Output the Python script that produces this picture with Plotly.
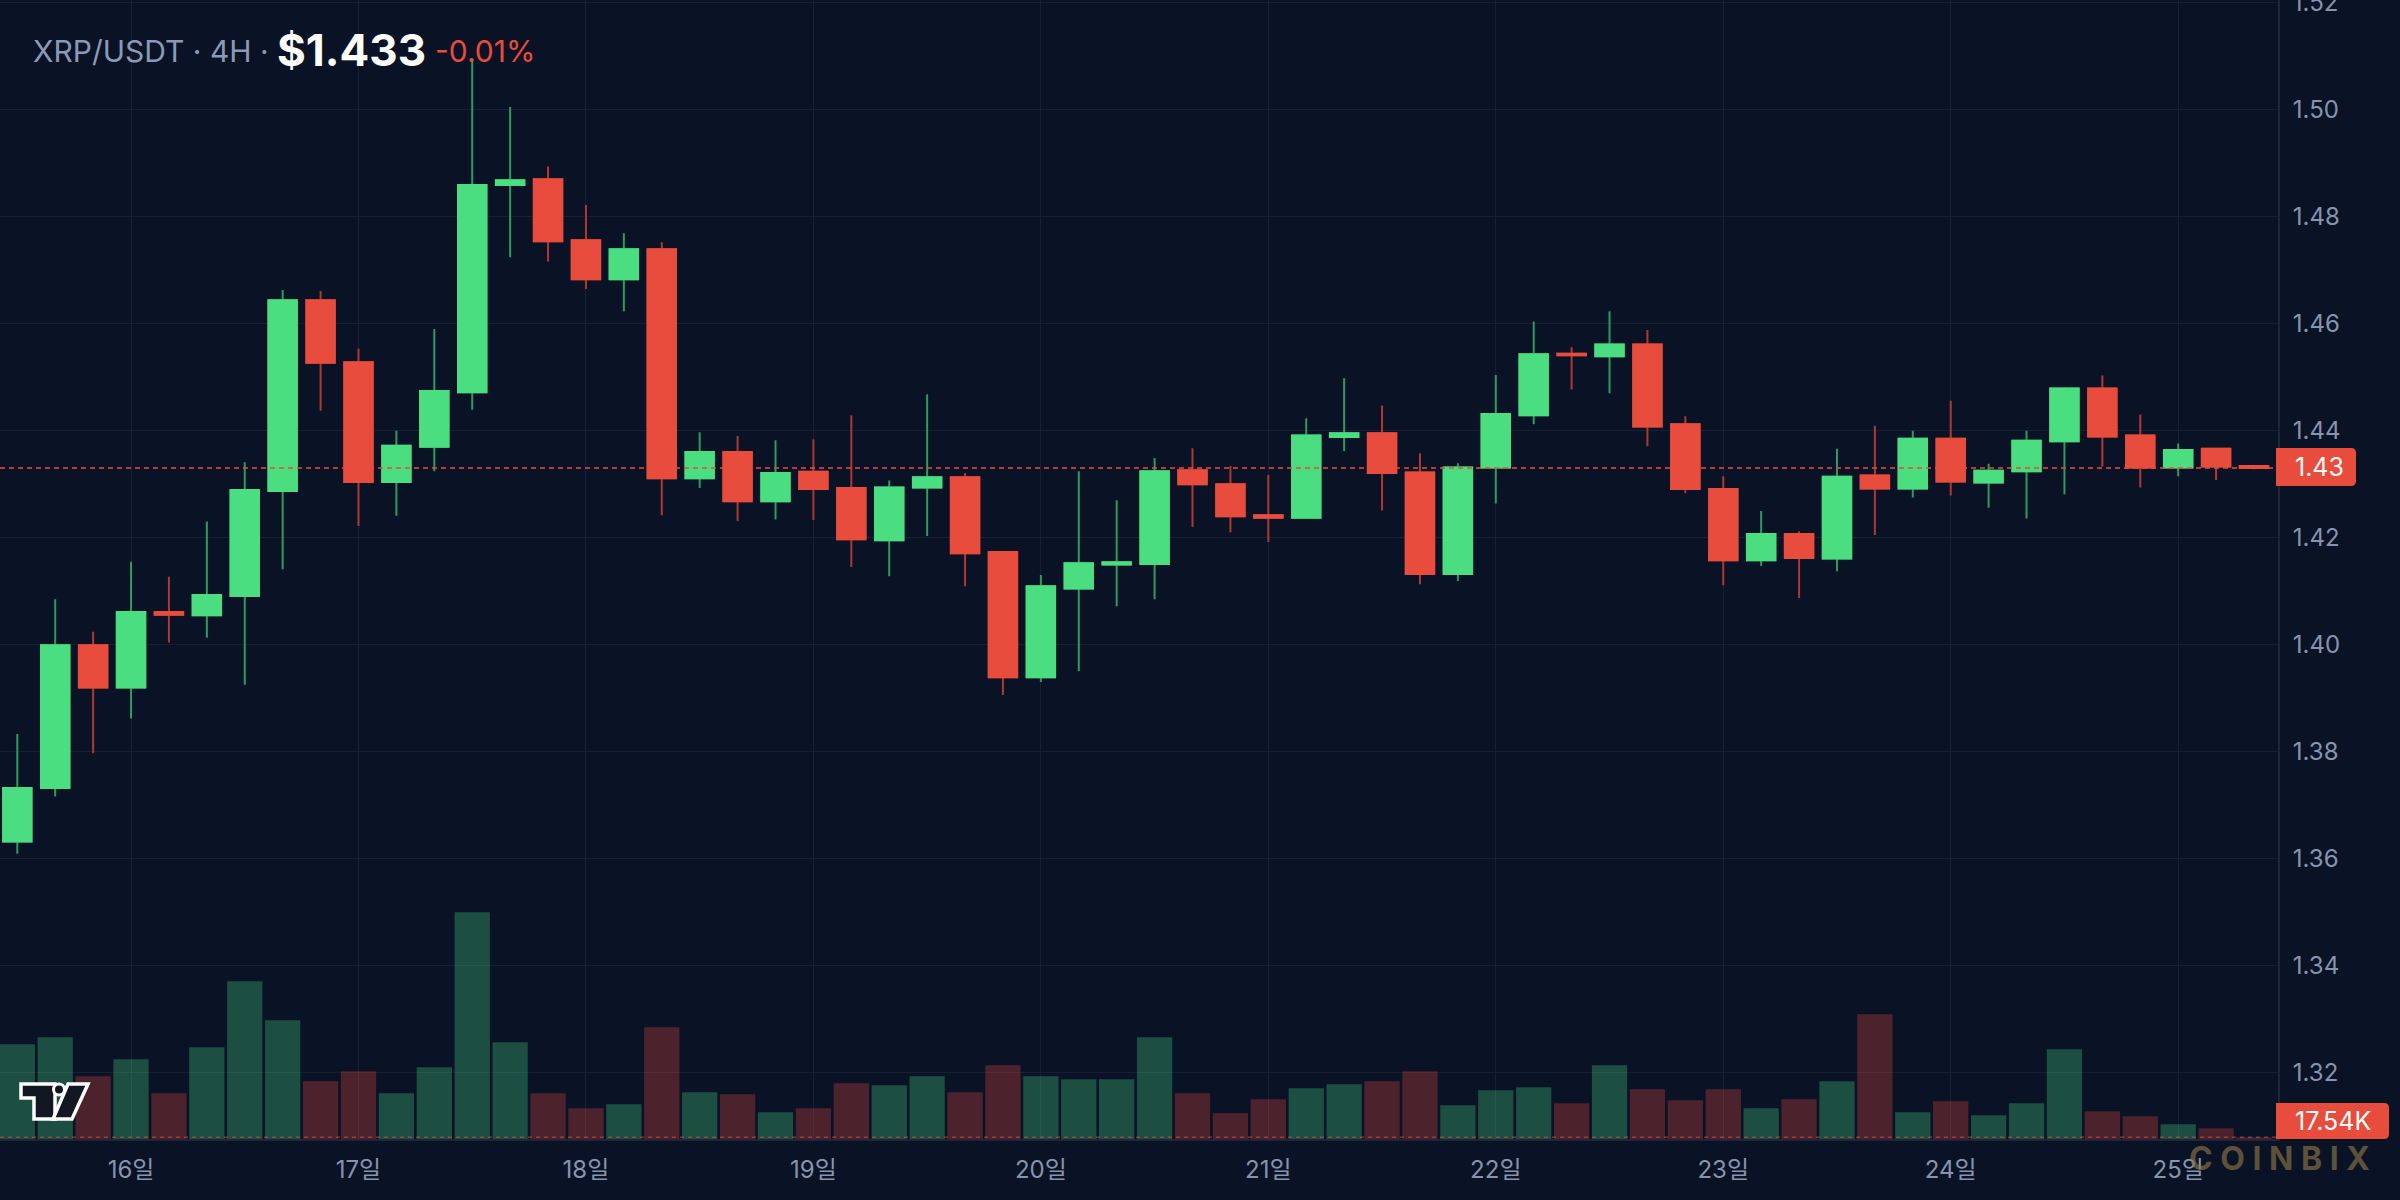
import plotly.graph_objects as go

# ---------------- data ----------------
day_labels = ["16일", "17일", "18일", "19일", "20일", "21일", "22일", "23일", "24일", "25일"]
day_tick_index = [3, 9, 15, 21, 27, 33, 39, 45, 51, 57]
price_ticks = [1.32, 1.34, 1.36, 1.38, 1.40, 1.42, 1.44, 1.46, 1.48, 1.50, 1.52]

opens = [1.3632, 1.3732, 1.3999, 1.3920, 1.4061, 1.4055, 1.4091, 1.4287, 1.4644, 1.4528,
         1.4304, 1.4370, 1.4472, 1.4859, 1.4870, 1.4756, 1.4683, 1.4739, 1.4311, 1.4360,
         1.4268, 1.4323, 1.4293, 1.4195, 1.4294, 1.4313, 1.4173, 1.3939, 1.4105, 1.4150,
         1.4151, 1.4326, 1.4300, 1.4242, 1.4237, 1.4388, 1.4395, 1.4322, 1.4132, 1.4331,
         1.4429, 1.4544, 1.4539, 1.4561, 1.4412, 1.4291, 1.4158, 1.4207, 1.4161, 1.4316,
         1.4292, 1.4385, 1.4303, 1.4324, 1.4380, 1.4479, 1.4391, 1.4331, 1.4366, 1.4334]
highs = [1.3833, 1.4085, 1.4024, 1.4155, 1.4127, 1.4230, 1.4341, 1.4663, 1.4661, 1.4553,
         1.4400, 1.4590, 1.5095, 1.5005, 1.4894, 1.4822, 1.4769, 1.4752, 1.4397, 1.4390,
         1.4382, 1.4384, 1.4429, 1.4307, 1.4468, 1.4321, 1.4174, 1.4130, 1.4324, 1.4270,
         1.4349, 1.4367, 1.4334, 1.4317, 1.4423, 1.4498, 1.4447, 1.4358, 1.4339, 1.4504,
         1.4604, 1.4556, 1.4623, 1.4588, 1.4427, 1.4315, 1.4250, 1.4212, 1.4366, 1.4409,
         1.4400, 1.4456, 1.4338, 1.4400, 1.4481, 1.4503, 1.4430, 1.4376, 1.4368, 1.4335]
lows = [1.3609, 1.3716, 1.3797, 1.3862, 1.4004, 1.4013, 1.3925, 1.4141, 1.4437, 1.4222,
        1.4241, 1.4324, 1.4439, 1.4724, 1.4716, 1.4665, 1.4623, 1.4242, 1.4293, 1.4231,
        1.4234, 1.4233, 1.4145, 1.4128, 1.4203, 1.4109, 1.3906, 1.3930, 1.3951, 1.4072,
        1.4085, 1.4220, 1.4210, 1.4192, 1.4237, 1.4362, 1.4251, 1.4113, 1.4119, 1.4264,
        1.4412, 1.4477, 1.4470, 1.4371, 1.4283, 1.4111, 1.4147, 1.4087, 1.4137, 1.4205,
        1.4275, 1.4279, 1.4256, 1.4236, 1.4281, 1.4333, 1.4294, 1.4315, 1.4308, 1.4328]
closes = [1.3732, 1.3999, 1.3920, 1.4061, 1.4056, 1.4093, 1.4289, 1.4644, 1.4527, 1.4304,
          1.4372, 1.4474, 1.4859, 1.4868, 1.4754, 1.4683, 1.4739, 1.4311, 1.4360, 1.4268,
          1.4321, 1.4291, 1.4197, 1.4294, 1.4313, 1.4171, 1.3939, 1.4109, 1.4152, 1.4154,
          1.4324, 1.4300, 1.4240, 1.4237, 1.4391, 1.4395, 1.4321, 1.4132, 1.4331, 1.4431,
          1.4543, 1.4541, 1.4561, 1.4408, 1.4291, 1.4158, 1.4207, 1.4162, 1.4314, 1.4292,
          1.4385, 1.4305, 1.4325, 1.4381, 1.4479, 1.4389, 1.4331, 1.4364, 1.4333, 1.4330]
volumes_k = [975, 1047, 646, 821, 471, 944, 1624, 1223, 594, 697,
             471, 738, 2335, 996, 471, 316, 357, 1150, 481, 460,
             275, 316, 574, 553, 646, 481, 759, 646, 615, 615,
             1047, 471, 265, 409, 522, 563, 594, 697, 347, 502,
             532, 368, 759, 512, 399, 512, 316, 409, 594, 1284,
             275, 388, 244, 368, 924, 285, 234, 151, 110, 17.54]

symbol_text = "XRP/USDT · 4H ·"
last_price_text = "$1.433"
change_text = "-0.01%"
price_label_text = "1.43"
volume_label_text = "17.54K"
watermark_text = "COINBIX"

# ---------------- styling ----------------
BG = "#0a1226"
GRID = "#172033"
AXLINE = "#1e2738"
LABEL = "#8794ad"
UP = "#4ade80"
DOWN = "#e74c3c"
UP_WICK = "#2f9a5e"
DOWN_WICK = "#ad3a31"
UP_VOL = "rgba(74,222,128,0.30)"
DOWN_VOL = "rgba(231,76,60,0.30)"
FONT = "Inter, 'Noto Sans CJK KR', sans-serif"

W, H = 2400, 1200
PW, PH = 2278, 1139  # plot area size in px

idx = list(range(len(opens)))
last_close = closes[-1]
body_hi = [max(o, c) for o, c in zip(opens, closes)]
body_lo = [min(o, c) for o, c in zip(opens, closes)]
vol_colors = [UP_VOL if c >= o else DOWN_VOL for o, c in zip(opens, closes)]


def pp(x, y):
    return f"{x / PW:.6f},{1 - y / PH:.6f}"


def rbox(x0, y0, x1, y1, r):
    return (f"M {pp(x0, y0)} L {pp(x1 - r, y0)} Q {pp(x1, y0)} {pp(x1, y0 + r)} "
            f"L {pp(x1, y1 - r)} Q {pp(x1, y1)} {pp(x1 - r, y1)} L {pp(x0, y1)} Z")


fig = go.Figure()

fig.add_trace(go.Bar(x=idx, y=volumes_k, marker=dict(color=vol_colors, line=dict(width=0)),
                     yaxis="y2", hoverinfo="skip"))

# wicks
fig.add_trace(go.Candlestick(
    x=idx, open=opens, high=highs, low=lows, close=closes,
    increasing=dict(line=dict(color=UP_WICK, width=2), fillcolor=UP_WICK),
    decreasing=dict(line=dict(color=DOWN_WICK, width=2), fillcolor=DOWN_WICK),
    hoverinfo="skip"))
# bodies
fig.add_trace(go.Candlestick(
    x=idx, open=opens, high=body_hi, low=body_lo, close=closes,
    increasing=dict(line=dict(color=UP, width=2), fillcolor=UP),
    decreasing=dict(line=dict(color=DOWN, width=2), fillcolor=DOWN),
    hoverinfo="skip"))

x_left = -17.3 / 37.91
x_right = x_left + PW / 37.91
vmax = max(volumes_k)

fig.update_layout(
    width=W, height=H,
    margin=dict(l=0, r=W - PW, t=0, b=H - PH, autoexpand=False),
    paper_bgcolor=BG, plot_bgcolor=BG,
    showlegend=False, hovermode=False,
    boxmode="overlay", boxgap=0.25, boxgroupgap=0, bargap=0.07,
    font=dict(family=FONT, color=LABEL),
    xaxis=dict(range=[x_left, x_right], tickmode="array", tickvals=day_tick_index, ticktext=day_labels,
               showgrid=True, gridcolor=GRID, gridwidth=1, zeroline=False,
               showline=True, linecolor=AXLINE, linewidth=2, ticks="",
               tickfont=dict(family=FONT, size=24, color=LABEL), ticklabelstandoff=8,
               rangeslider=dict(visible=False), fixedrange=True, automargin=False),
    yaxis=dict(side="right", range=[1.3076, 1.5205], tickmode="array", tickvals=price_ticks,
               tickformat=".2f", showgrid=True, gridcolor=GRID, gridwidth=1, zeroline=False,
               showline=True, linecolor=AXLINE, linewidth=2, ticks="",
               tickfont=dict(family=FONT, size=24, color=LABEL), ticklabelstandoff=8,
               ticklabeloverflow="allow", fixedrange=True, automargin=False),
    yaxis2=dict(overlaying="y", range=[0, vmax * PH / 226.7], visible=False, fixedrange=True),
)

shapes = [
    dict(type="line", xref="paper", x0=0, x1=1, yref="y", y0=last_close, y1=last_close,
         line=dict(color=DOWN, width=1.5, dash="5px,4px"), layer="above"),
    dict(type="line", xref="paper", x0=0, x1=1, yref="y2", y0=volumes_k[-1], y1=volumes_k[-1],
         line=dict(color="rgba(231,76,60,0.55)", width=1.5, dash="4px,4px"), layer="above"),
    dict(type="path", xref="paper", yref="paper", path=rbox(2276, 448, 2356, 486, 5),
         fillcolor=DOWN, line=dict(width=0), layer="above"),
    dict(type="path", xref="paper", yref="paper", path=rbox(2276, 1103, 2389, 1139, 5),
         fillcolor=DOWN, line=dict(width=0), layer="above"),
    # TradingView-like logo
    dict(type="path", xref="paper", yref="paper",
         path=f"M {pp(21,1084)} L {pp(55,1084)} L {pp(55,1119)} L {pp(34,1119)} L {pp(34,1098)} L {pp(21,1098)} Z",
         fillcolor="#131722", line=dict(color="white", width=3.5), layer="above"),
    dict(type="path", xref="paper", yref="paper",
         path=f"M {pp(68,1084)} L {pp(88,1084)} L {pp(72,1119)} L {pp(53,1119)} Z",
         fillcolor="#131722", line=dict(color="white", width=3.5), layer="above"),
    dict(type="circle", xref="paper", yref="paper",
         x0=53.5 / PW, x1=64.5 / PW, y0=1 - 1095 / PH, y1=1 - 1084 / PH,
         fillcolor="#131722", line=dict(color="white", width=3), layer="above"),
]

annotations = [
    dict(text=symbol_text, xref="paper", yref="paper", x=31 / PW, y=1 - 51 / PH,
         xanchor="left", yanchor="middle", showarrow=False,
         font=dict(family=FONT, size=30, color="#8a9ab5")),
    dict(text=f"<b>{last_price_text}</b>", xref="paper", yref="paper", x=275 / PW, y=1 - 50 / PH,
         xanchor="left", yanchor="middle", showarrow=False,
         font=dict(family=FONT, size=44, color="#ffffff")),
    dict(text=change_text, xref="paper", yref="paper", x=433 / PW, y=1 - 51 / PH,
         xanchor="left", yanchor="middle", showarrow=False,
         font=dict(family=FONT, size=30, color=DOWN)),
    dict(text=price_label_text, xref="paper", yref="paper", x=2293 / PW, y=1 - 467 / PH,
         xanchor="left", yanchor="middle", showarrow=False,
         font=dict(family=FONT, size=25, color="#ffffff")),
    dict(text=volume_label_text, xref="paper", yref="paper", x=2293 / PW, y=1 - 1121 / PH,
         xanchor="left", yanchor="middle", showarrow=False,
         font=dict(family=FONT, size=25, color="#ffffff")),
    dict(text="<b>" + " ".join(watermark_text) + "</b>", xref="paper", yref="paper",
         x=2279 / PW, y=1 - 1158 / PH, xanchor="center", yanchor="middle", showarrow=False,
         font=dict(family=FONT, size=32, color="rgba(150,125,70,0.6)")),
]

fig.update_layout(shapes=shapes, annotations=annotations)

fig.write_html("out.html", config={"displayModeBar": False})
